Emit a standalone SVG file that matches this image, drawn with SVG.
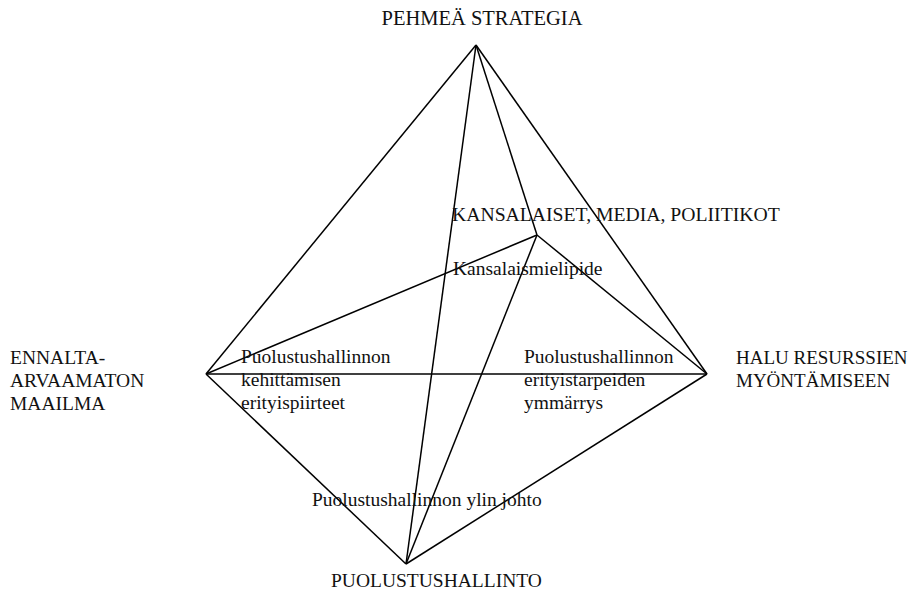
<svg xmlns="http://www.w3.org/2000/svg" width="914" height="593" viewBox="0 0 914 593">
<style>
text{font-family:"Liberation Serif","Times New Roman",serif;font-size:19.5px;fill:#111}
.e{stroke:#000;stroke-width:1.5;fill:none}
</style>
<rect width="914" height="593" fill="#fff"/>
<g id="connectors">
<line class="e" x1="476" y1="45" x2="206" y2="374"/>
<line class="e" x1="476" y1="45" x2="707" y2="374"/>
<line class="e" x1="476" y1="45" x2="406" y2="564"/>
<line class="e" x1="476" y1="45" x2="537" y2="235"/>
<line class="e" x1="206" y1="374" x2="707" y2="374"/>
<line class="e" x1="206" y1="374" x2="537" y2="235"/>
<line class="e" x1="206" y1="374" x2="406" y2="564"/>
<line class="e" x1="707" y1="374" x2="406" y2="564"/>
<line class="e" x1="707" y1="374" x2="537" y2="235"/>
<line class="e" x1="537" y1="235" x2="406" y2="564"/>
</g>
<g id="pehmea"><text x="482" y="25" text-anchor="middle" style="font-size:20.5px">PEHMEÄ STRATEGIA</text></g>
<g id="kansalaiset"><text x="452" y="221" style="font-size:19.7px">KANSALAISET, MEDIA, POLIITIKOT</text></g>
<g id="kansalaismielipide"><text x="453" y="275">Kansalaismielipide</text></g>
<g id="ennalta"><text x="10" y="364">ENNALTA-</text><text x="10" y="387">ARVAAMATON</text><text x="10" y="410">MAAILMA</text></g>
<g id="kehittaminen"><text x="241" y="363">Puolustushallinnon</text><text x="241" y="386">kehittämisen</text><text x="241" y="409">erityispiirteet</text></g>
<g id="ymmarrys"><text x="524" y="363">Puolustushallinnon</text><text x="524" y="386">erityistarpeiden</text><text x="524" y="409">ymmärrys</text></g>
<g id="halu"><text x="736" y="364" style="font-size:19px">HALU RESURSSIEN</text><text x="736" y="387" style="font-size:19px">MYÖNTÄMISEEN</text></g>
<g id="ylin"><text x="312" y="506">Puolustushallinnon ylin johto</text></g>
<g id="puolustushallinto"><text x="331" y="587">PUOLUSTUSHALLINTO</text></g>
</svg>
